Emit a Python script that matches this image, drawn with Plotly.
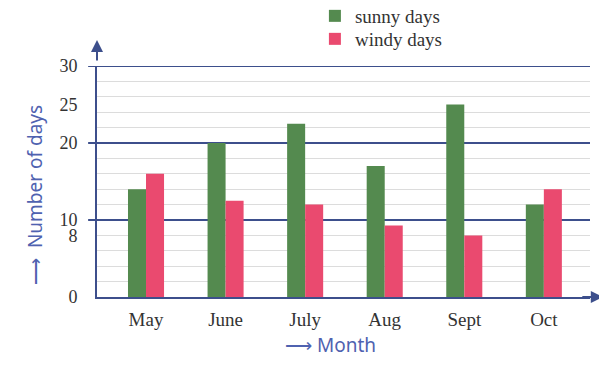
import plotly.graph_objects as go

months = ["May", "June", "July", "Aug", "Sept", "Oct"]
sunny_days = [14, 20, 22.5, 17, 25, 12]
windy_days = [16, 12.5, 12, 9.3, 8, 14]
y_tick_vals = [0, 8, 10, 20, 25, 30]
y_tick_text = ["0", "8", "10", "20", "25", "30"]
major_grid = [10, 20, 30]
minor_grid = [2, 4, 6, 8, 12, 14, 16, 18, 22, 24, 26, 28]

GREEN = "#548a4f"
PINK = "#ea4a6f"
AXIS = "#3d4f8c"
TITLE = "#4f62b0"
TEXT = "#333333"
SERIF = "Liberation Serif, serif"

fig = go.Figure()
fig.add_trace(go.Bar(x=months, y=sunny_days, name="sunny days", legend="legend",
                     marker=dict(color=GREEN, line=dict(width=0))))
fig.add_trace(go.Bar(x=months, y=windy_days, name="windy days", legend="legend2",
                     marker=dict(color=PINK, line=dict(width=0))))

shapes = []
for v in major_grid:
    shapes.append(dict(type="line", xref="paper", yref="y", x0=-0.018, x1=1, y0=v, y1=v,
                       line=dict(color=AXIS, width=2), layer="below"))

leg_common = dict(xanchor="left", yanchor="middle", orientation="v",
                  font=dict(family=SERIF, size=19, color=TEXT), bgcolor="rgba(0,0,0,0)",
                  itemwidth=30)

# page body has an 8px margin: shrink the figure so the plot lands where the reference has it
fig.update_layout(
    width=599, height=362,
    margin=dict(l=89, r=17, t=58, b=73, autoexpand=False),
    paper_bgcolor="white", plot_bgcolor="white",
    barmode="group", bargap=0.547, bargroupgap=0,
    font=dict(family=SERIF, size=18, color=TEXT),
    showlegend=True,
    legend=dict(x=0.442, y=(297 - 16) / 231, **leg_common),
    legend2=dict(x=0.442, y=(297 - 39) / 231, **leg_common),
    xaxis=dict(range=[-0.616, 5.58], showgrid=False, showline=True, linecolor=AXIS, linewidth=2,
               ticks="", tickfont=dict(family=SERIF, size=19, color=TEXT), zeroline=False,
               automargin=False, ticklabelstandoff=4),
    yaxis=dict(range=[0, 30], tickvals=y_tick_vals, ticktext=y_tick_text, showgrid=False,
               showline=True, linecolor=AXIS, linewidth=2, ticks="", ticklen=0,
               tickfont=dict(family=SERIF, size=18, color=TEXT), zeroline=False, automargin=False,
               ticklabelstandoff=14,
               minor=dict(tickvals=minor_grid, showgrid=True, gridcolor="#dcdcdc", gridwidth=1)),
    shapes=shapes,
    annotations=[
        dict(x=1.026, y=0, xref="paper", yref="y", ax=-22, ay=0, text="", showarrow=True,
             arrowhead=2, arrowsize=1.2, arrowwidth=2, arrowcolor=AXIS),
        dict(x=0, y=1.113, xref="paper", yref="paper", ax=0, ay=22, text="", showarrow=True,
             arrowhead=2, arrowsize=1.2, arrowwidth=2, arrowcolor=AXIS),
        dict(x=(330 - 97) / 493, y=-(345 - 297) / 231, xref="paper", yref="paper",
             xanchor="center", yanchor="middle", text="⟶ Month", showarrow=False,
             font=dict(family="Noto Sans", size=19, color=TITLE)),
        dict(x=(35 - 97) / 493, y=(297 - 195) / 231, xref="paper", yref="paper",
             xanchor="center", yanchor="middle", text="⟶  Number of days", showarrow=False,
             textangle=-90, font=dict(family="Noto Sans", size=19, color=TITLE)),
    ],
)

fig.write_html("out.html")
